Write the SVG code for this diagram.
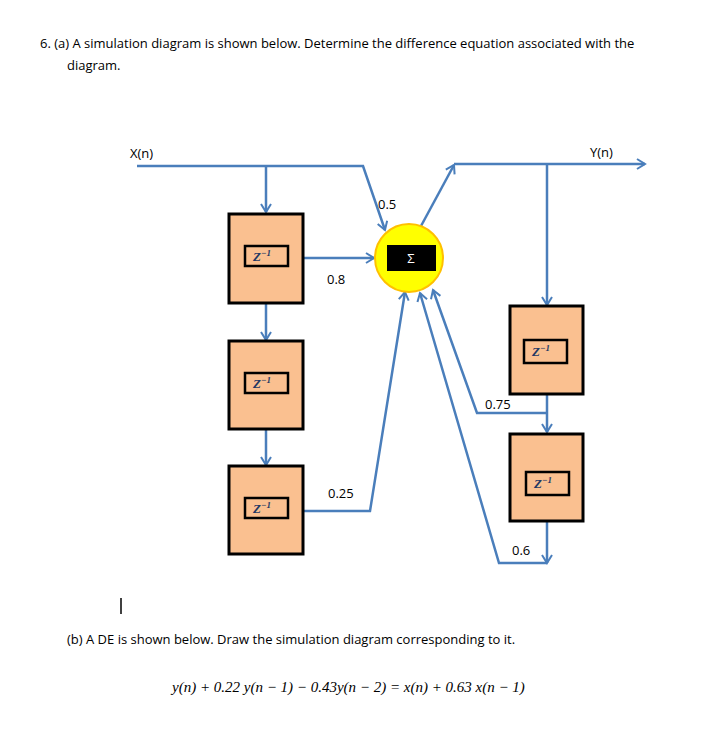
<svg xmlns="http://www.w3.org/2000/svg" width="722" height="736" viewBox="0 0 722 736">
<style>
text{font-family:"Open Sans","Liberation Sans",sans-serif;font-size:13px;fill:#000}
.w{stroke:#4a7ebb;stroke-width:2.5;fill:none}
.d{fill:#fac090;stroke:#000;stroke-width:3}
.i{fill:#fac090;stroke:#000;stroke-width:2.5}
.z{font-family:"Liberation Serif",serif;font-style:italic;font-weight:bold;font-size:13px;fill:#1f3864}
.m{font-family:"Liberation Serif",serif;font-style:italic;font-size:15px}
</style>
<defs><marker id="a" markerWidth="12" markerHeight="12" refX="10" refY="6" orient="auto" markerUnits="userSpaceOnUse"><path d="M2,1 L10,6 L2,11" fill="none" stroke="#4a7ebb" stroke-width="2"/></marker></defs>
<rect width="722" height="736" fill="#fff"/>
<text x="40" y="48">6.  (a) A simulation diagram is shown  below. Determine the difference equation associated with the</text>
<text x="67" y="70">diagram.</text>
<text x="130" y="158">X(n)</text>
<text x="590" y="157">Y(n)</text>
<g id="connectors">
<path class="w" d="M137,166 H363 L385,230" marker-end="url(#a)"/>
<path class="w" d="M266,166 V212" marker-end="url(#a)"/>
<path class="w" d="M303,258 H374" marker-end="url(#a)"/>
<path class="w" d="M266,303 V340" marker-end="url(#a)"/>
<path class="w" d="M266,429 V465" marker-end="url(#a)"/>
<path class="w" d="M303,511 H370 L405,292" marker-end="url(#a)"/>
<path class="w" d="M421,226 L454,165" marker-end="url(#a)"/>
<path class="w" d="M454,164 H645" marker-end="url(#a)"/>
<path class="w" d="M547,164 V305" marker-end="url(#a)"/>
<path class="w" d="M547,394 V432" marker-end="url(#a)"/>
<path class="w" d="M547,413 H477 L433,290" marker-end="url(#a)"/>
<path class="w" d="M547,521 V563" marker-end="url(#a)"/>
<path class="w" d="M547,563 H499 L420,293" marker-end="url(#a)"/>
</g>
<text x="378" y="209">0.5</text>
<text x="327" y="284">0.8</text>
<text x="328" y="498">0.25</text>
<text x="485" y="409">0.75</text>
<text x="512" y="555">0.6</text>
<g id="sum"><circle cx="409" cy="258" r="34" fill="#ffff00" stroke="#ffc000" stroke-width="2"/><rect x="387" y="245" width="49" height="26" fill="#000"/><text x="411" y="263" fill="#fff" style="fill:#fff" text-anchor="middle">Σ</text></g>
<g id="d1"><rect class="d" x="229" y="214" width="74" height="89"/><rect class="i" x="245" y="246" width="43" height="20"/><text class="z" x="253" y="261">Z<tspan font-size="9" dy="-5">−1</tspan></text></g>
<g id="d2"><rect class="d" x="229" y="341" width="74" height="88"/><rect class="i" x="245" y="373" width="43" height="20"/><text class="z" x="253" y="388">Z<tspan font-size="9" dy="-5">−1</tspan></text></g>
<g id="d3"><rect class="d" x="229" y="466" width="74" height="88"/><rect class="i" x="245" y="498" width="43" height="20"/><text class="z" x="253" y="513">Z<tspan font-size="9" dy="-5">−1</tspan></text></g>
<g id="d4"><rect class="d" x="510" y="306" width="73" height="88"/><rect class="i" x="524" y="340" width="43" height="23"/><text class="z" x="532" y="356">Z<tspan font-size="9" dy="-5">−1</tspan></text></g>
<g id="d5"><rect class="d" x="510" y="434" width="73" height="87"/><rect class="i" x="526" y="472" width="43" height="23"/><text class="z" x="534" y="488">Z<tspan font-size="9" dy="-5">−1</tspan></text></g>
<line x1="121" y1="598" x2="121" y2="614" stroke="#000" stroke-width="1.5"/>
<text x="67" y="644">(b) A DE is shown below. Draw the simulation diagram corresponding to it.</text>
<text class="m" x="172" y="692">y(n) + 0.22 y(n − 1) − 0.43y(n − 2) =  x(n) + 0.63 x(n − 1)</text>
</svg>
